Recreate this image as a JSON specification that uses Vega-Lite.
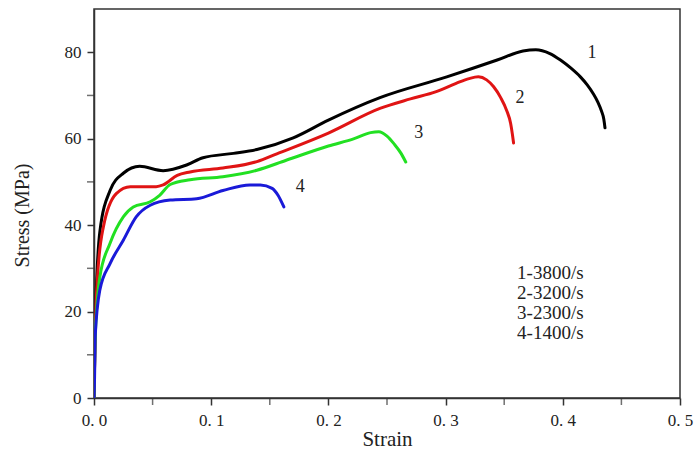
{
  "$schema": "https://vega.github.io/schema/vega-lite/v6.json",
  "width": 586,
  "height": 389,
  "autosize": "none",
  "padding": {"left": 94, "top": 9, "right": 17, "bottom": 53},
  "background": "white",
  "config": {
    "view": {"stroke": "#333", "strokeWidth": 1.5},
    "font": "Liberation Serif"
  },
  "datasets": {
    "curves": [
      {"s": "1", "i": 0, "strain": 0.0, "stress": 0},
      {"s": "1", "i": 1, "strain": 0.001, "stress": 16},
      {"s": "1", "i": 2, "strain": 0.002, "stress": 25},
      {"s": "1", "i": 3, "strain": 0.005, "stress": 38.5},
      {"s": "1", "i": 4, "strain": 0.0137, "stress": 48},
      {"s": "1", "i": 5, "strain": 0.025, "stress": 52},
      {"s": "1", "i": 6, "strain": 0.039, "stress": 53.6},
      {"s": "1", "i": 7, "strain": 0.059, "stress": 52.6},
      {"s": "1", "i": 8, "strain": 0.079, "stress": 53.9},
      {"s": "1", "i": 9, "strain": 0.093, "stress": 55.6},
      {"s": "1", "i": 10, "strain": 0.119, "stress": 56.6},
      {"s": "1", "i": 11, "strain": 0.139, "stress": 57.5},
      {"s": "1", "i": 12, "strain": 0.17, "stress": 60.2},
      {"s": "1", "i": 13, "strain": 0.2, "stress": 64.3},
      {"s": "1", "i": 14, "strain": 0.244, "stress": 69.5},
      {"s": "1", "i": 15, "strain": 0.301, "stress": 74.3},
      {"s": "1", "i": 16, "strain": 0.344, "stress": 78.2},
      {"s": "1", "i": 17, "strain": 0.366, "stress": 80.3},
      {"s": "1", "i": 18, "strain": 0.377, "stress": 80.6},
      {"s": "1", "i": 19, "strain": 0.389, "stress": 79.7},
      {"s": "1", "i": 20, "strain": 0.398, "stress": 78.2},
      {"s": "1", "i": 21, "strain": 0.407, "stress": 76.3},
      {"s": "1", "i": 22, "strain": 0.415, "stress": 74.3},
      {"s": "1", "i": 23, "strain": 0.421, "stress": 72.4},
      {"s": "1", "i": 24, "strain": 0.426, "stress": 70.4},
      {"s": "1", "i": 25, "strain": 0.43, "stress": 68.4},
      {"s": "1", "i": 26, "strain": 0.433, "stress": 66.4},
      {"s": "1", "i": 27, "strain": 0.435, "stress": 64.5},
      {"s": "1", "i": 28, "strain": 0.436, "stress": 62.5},
      {"s": "2", "i": 0, "strain": 0.0, "stress": 0},
      {"s": "2", "i": 1, "strain": 0.001, "stress": 15},
      {"s": "2", "i": 2, "strain": 0.003, "stress": 28},
      {"s": "2", "i": 3, "strain": 0.008, "stress": 39.6},
      {"s": "2", "i": 4, "strain": 0.019, "stress": 47.3},
      {"s": "2", "i": 5, "strain": 0.031, "stress": 48.9},
      {"s": "2", "i": 6, "strain": 0.053, "stress": 48.9},
      {"s": "2", "i": 7, "strain": 0.059, "stress": 49.3},
      {"s": "2", "i": 8, "strain": 0.071, "stress": 51.5},
      {"s": "2", "i": 9, "strain": 0.082, "stress": 52.3},
      {"s": "2", "i": 10, "strain": 0.11, "stress": 53.2},
      {"s": "2", "i": 11, "strain": 0.139, "stress": 54.7},
      {"s": "2", "i": 12, "strain": 0.156, "stress": 56.5},
      {"s": "2", "i": 13, "strain": 0.2, "stress": 61.3},
      {"s": "2", "i": 14, "strain": 0.244, "stress": 67.0},
      {"s": "2", "i": 15, "strain": 0.27, "stress": 69.2},
      {"s": "2", "i": 16, "strain": 0.292, "stress": 70.9},
      {"s": "2", "i": 17, "strain": 0.309, "stress": 72.8},
      {"s": "2", "i": 18, "strain": 0.32, "stress": 73.9},
      {"s": "2", "i": 19, "strain": 0.328, "stress": 74.3},
      {"s": "2", "i": 20, "strain": 0.335, "stress": 73.6},
      {"s": "2", "i": 21, "strain": 0.341, "stress": 72.0},
      {"s": "2", "i": 22, "strain": 0.347, "stress": 69.5},
      {"s": "2", "i": 23, "strain": 0.352, "stress": 66.6},
      {"s": "2", "i": 24, "strain": 0.3555, "stress": 63.5},
      {"s": "2", "i": 25, "strain": 0.357, "stress": 61.0},
      {"s": "2", "i": 26, "strain": 0.358, "stress": 59.0},
      {"s": "3", "i": 0, "strain": 0.0, "stress": 0},
      {"s": "3", "i": 1, "strain": 0.001, "stress": 14},
      {"s": "3", "i": 2, "strain": 0.005, "stress": 28},
      {"s": "3", "i": 3, "strain": 0.0137, "stress": 35.8},
      {"s": "3", "i": 4, "strain": 0.025, "stress": 41.9},
      {"s": "3", "i": 5, "strain": 0.0335, "stress": 44.2},
      {"s": "3", "i": 6, "strain": 0.048, "stress": 45.4},
      {"s": "3", "i": 7, "strain": 0.056, "stress": 46.9},
      {"s": "3", "i": 8, "strain": 0.065, "stress": 49.4},
      {"s": "3", "i": 9, "strain": 0.082, "stress": 50.5},
      {"s": "3", "i": 10, "strain": 0.11, "stress": 51.2},
      {"s": "3", "i": 11, "strain": 0.139, "stress": 52.7},
      {"s": "3", "i": 12, "strain": 0.164, "stress": 55.0},
      {"s": "3", "i": 13, "strain": 0.2, "stress": 58.3},
      {"s": "3", "i": 14, "strain": 0.222, "stress": 60.0},
      {"s": "3", "i": 15, "strain": 0.236, "stress": 61.4},
      {"s": "3", "i": 16, "strain": 0.243, "stress": 61.6},
      {"s": "3", "i": 17, "strain": 0.25, "stress": 60.6},
      {"s": "3", "i": 18, "strain": 0.256, "stress": 58.8},
      {"s": "3", "i": 19, "strain": 0.262, "stress": 56.6},
      {"s": "3", "i": 20, "strain": 0.266, "stress": 54.6},
      {"s": "4", "i": 0, "strain": 0.0, "stress": 0},
      {"s": "4", "i": 1, "strain": 0.0005, "stress": 5},
      {"s": "4", "i": 2, "strain": 0.001, "stress": 14.2},
      {"s": "4", "i": 3, "strain": 0.005, "stress": 25},
      {"s": "4", "i": 4, "strain": 0.0137, "stress": 31.1},
      {"s": "4", "i": 5, "strain": 0.025, "stress": 36.5},
      {"s": "4", "i": 6, "strain": 0.036, "stress": 41.9},
      {"s": "4", "i": 7, "strain": 0.048, "stress": 44.6},
      {"s": "4", "i": 8, "strain": 0.065, "stress": 45.8},
      {"s": "4", "i": 9, "strain": 0.0876, "stress": 46.1},
      {"s": "4", "i": 10, "strain": 0.11, "stress": 48.0},
      {"s": "4", "i": 11, "strain": 0.133, "stress": 49.3},
      {"s": "4", "i": 12, "strain": 0.142, "stress": 49.3},
      {"s": "4", "i": 13, "strain": 0.152, "stress": 48.5},
      {"s": "4", "i": 14, "strain": 0.157, "stress": 46.9},
      {"s": "4", "i": 15, "strain": 0.162, "stress": 44.2}
    ],
    "curveLabels": [
      {"t": "1", "strain": 0.425, "stress": 79.8},
      {"t": "2", "strain": 0.3635, "stress": 69.4},
      {"t": "3", "strain": 0.277, "stress": 61.3},
      {"t": "4", "strain": 0.176, "stress": 48.8}
    ],
    "legendText": [
      {"t": "1-3800/s", "strain": 0.361, "stress": 28.9},
      {"t": "2-3200/s", "strain": 0.361, "stress": 24.3},
      {"t": "3-2300/s", "strain": 0.361, "stress": 19.7},
      {"t": "4-1400/s", "strain": 0.361, "stress": 15.0}
    ]
  },
  "layer": [
    {
      "data": {"name": "curves"},
      "mark": {"type": "line", "interpolate": "monotone", "strokeWidth": 3, "strokeCap": "round", "clip": true},
      "encoding": {
        "x": {
          "field": "strain", "type": "quantitative",
          "scale": {"domain": [0, 0.5], "nice": false, "zero": false},
          "axis": {
            "title": "Strain", "titleFont": "Liberation Serif", "titleFontSize": 21, "titleFontWeight": "normal", "titleColor": "#222", "titlePadding": 0,
            "values": [0, 0.1, 0.2, 0.3, 0.4, 0.5],
            "labelExpr": "replace(format(datum.value, '.1f'), '.', '. ')",
            "labelFont": "Liberation Serif", "labelFontSize": 17, "labelColor": "#222", "labelPadding": 7, "labelFlush": false,
            "ticks": true, "tickSize": 7, "tickColor": "#333", "tickWidth": 1.5,
            "domainColor": "#333", "domainWidth": 1.5, "grid": false
          }
        },
        "y": {
          "field": "stress", "type": "quantitative",
          "scale": {"domain": [0, 90], "nice": false},
          "axis": {
            "title": "Stress  (MPa)", "titleFont": "Liberation Serif", "titleFontSize": 20, "titleFontWeight": "normal", "titleColor": "#222",
            "titleX": -62, "titleY": 206,
            "values": [0, 20, 40, 60, 80],
            "labelFont": "Liberation Serif", "labelFontSize": 17, "labelColor": "#222", "labelPadding": 6,
            "tickSize": 7, "tickColor": "#333", "tickWidth": 1.5,
            "domainColor": "#333", "domainWidth": 1.5, "grid": false
          }
        },
        "color": {
          "field": "s", "type": "nominal",
          "scale": {"domain": ["1", "2", "3", "4"], "range": ["#000000", "#e01414", "#22e022", "#1a1ad8"]},
          "legend": null
        },
        "order": {"field": "i", "type": "quantitative"}
      }
    },
    {
      "data": {"values": [{"v": 10}, {"v": 30}, {"v": 50}, {"v": 70}]},
      "mark": {"type": "tick", "orient": "horizontal", "color": "#333", "thickness": 1.5, "size": 7, "xOffset": -3.5},
      "encoding": {
        "y": {"field": "v", "type": "quantitative"},
        "x": {"datum": 0}
      }
    },
    {
      "data": {"values": [{"v": 0.05}, {"v": 0.15}, {"v": 0.25}, {"v": 0.35}, {"v": 0.45}]},
      "mark": {"type": "tick", "orient": "vertical", "color": "#333", "thickness": 1.5, "size": 7, "yOffset": 3.5},
      "encoding": {
        "x": {"field": "v", "type": "quantitative"},
        "y": {"datum": 0}
      }
    },
    {
      "data": {"name": "curveLabels"},
      "mark": {"type": "text", "font": "Liberation Serif", "fontSize": 18, "color": "#222"},
      "encoding": {
        "x": {"field": "strain", "type": "quantitative"},
        "y": {"field": "stress", "type": "quantitative"},
        "text": {"field": "t"}
      }
    },
    {
      "data": {"name": "legendText"},
      "mark": {"type": "text", "font": "Liberation Serif", "fontSize": 19, "color": "#222", "align": "left"},
      "encoding": {
        "x": {"field": "strain", "type": "quantitative"},
        "y": {"field": "stress", "type": "quantitative"},
        "text": {"field": "t"}
      }
    }
  ]
}
